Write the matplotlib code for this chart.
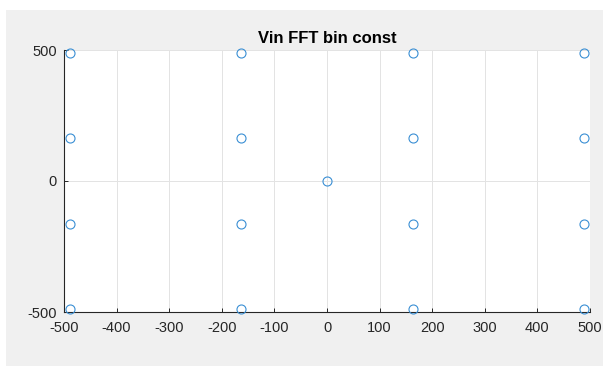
import matplotlib
matplotlib.use("Agg")
import matplotlib.pyplot as plt
from matplotlib.patches import Rectangle

# Data: constellation points (16-point grid + origin)
levels = [-488, -163, 163, 488]
x_vals = [lx for lx in levels for ly in levels] + [0]
y_vals = [ly for lx in levels for ly in levels] + [0]
x_ticks = [-500, -400, -300, -200, -100, 0, 100, 200, 300, 400, 500]
y_ticks = [-500, 0, 500]
title = "Vin FFT bin const"

plt.rcParams['font.family'] = ['Liberation Sans', 'DejaVu Sans']
plt.rcParams['axes.unicode_minus'] = False

fig = plt.figure(figsize=(6.03, 3.66), dpi=100)
fig.patch.set_facecolor('white')
# MATLAB-like gray figure panel
fig.patches.append(Rectangle((6/603, 0), 1 - 6/603, 1 - 10/366, transform=fig.transFigure,
                             facecolor='#f0f0f0', edgecolor='none', zorder=-10))

ax = fig.add_axes([64/603, 1 - 312/366, 526/603, 262/366])
ax.set_zorder(1)
ax.set_facecolor('white')
ax.plot(x_vals, y_vals, linestyle='none', marker='o', markersize=6.5,
        markerfacecolor='none', markeredgecolor='#3a8fd4', markeredgewidth=0.8,
        clip_on=False, zorder=3)
ax.set_xlim(-500, 500)
ax.set_ylim(-500, 500)
ax.set_xticks(x_ticks)
ax.set_yticks(y_ticks)
ax.set_xticklabels([str(v) for v in x_ticks])
ax.set_yticklabels([str(v) for v in y_ticks])
ax.grid(True, color='#e3e3e3', linewidth=0.7)
ax.set_axisbelow(True)
for s in ['top', 'right']:
    ax.spines[s].set_visible(False)
for s in ['left', 'bottom']:
    ax.spines[s].set_color('#262626')
    ax.spines[s].set_linewidth(0.8)
ax.tick_params(direction='in', length=3, width=0.7, colors='#262626',
               labelsize=10.5, labelcolor='#262626')
ax.tick_params(axis='x', pad=6.5)
ax.tick_params(axis='y', pad=5)
ax.set_title(title, fontsize=12, fontweight='bold', pad=5, color='black')

fig.savefig('out.png', dpi=100, facecolor=fig.get_facecolor())
